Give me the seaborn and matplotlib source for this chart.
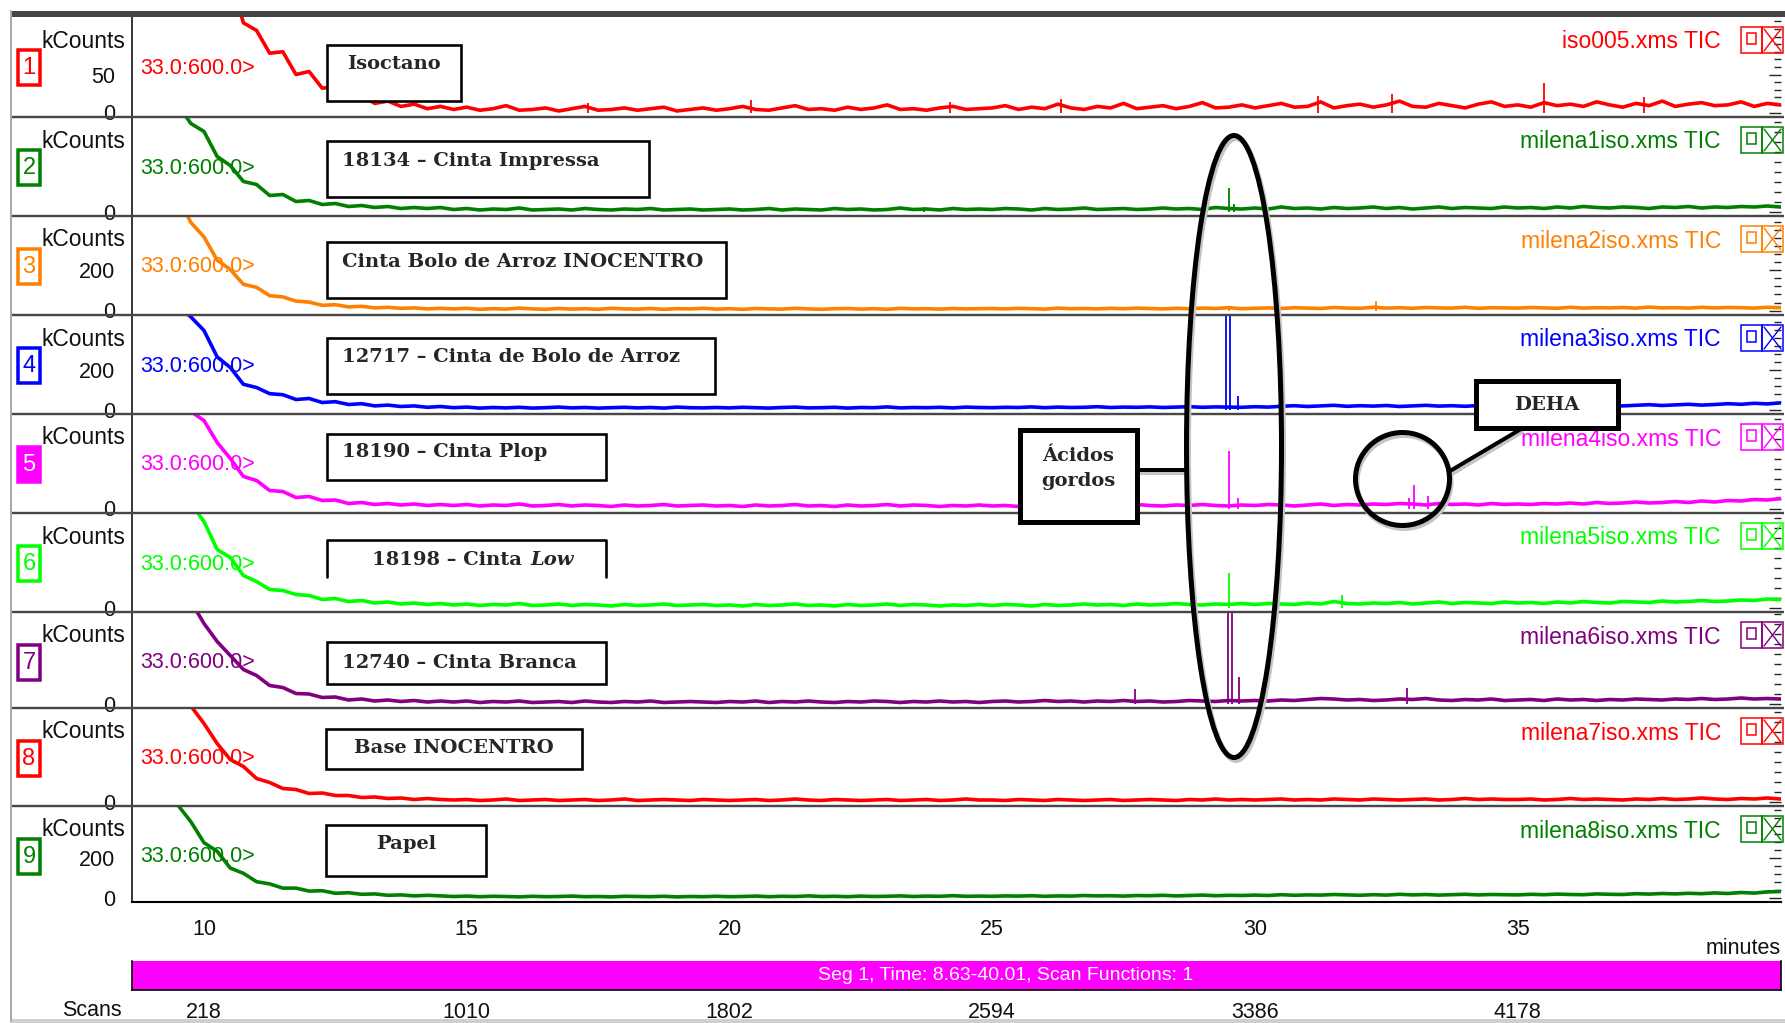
import numpy as np
import matplotlib
matplotlib.use("Agg")
import matplotlib.pyplot as plt
from matplotlib.patches import Rectangle, Ellipse
from matplotlib.ticker import MultipleLocator
import seaborn as sns

sns.set_style("white")
plt.rcParams["font.family"] = ["Liberation Sans", "DejaVu Sans"]

W, H, DPI = 1785, 1023, 100

# ---------------------------------------------------------------- data
# retention-time sampling grid (minutes)
minutes = np.round(np.arange(8.75, 40.001, 0.25), 2)

# TIC traces in kCounts, one value per grid point
tic_1 = [300, 300, 300, 300, 300, 300, 260, 177, 118, 108, 78, 80, 50, 54, 32, 34, 18, 22, 12, 15, 8, 11, 5, 8,
         4, 7, 3, 5, 9, 3, 4, 6, 2, 5, 8, 3, 4, 6, 3, 5, 7, 2, 4, 6, 3,
         5, 8, 4, 3, 6, 9, 4, 5, 3, 7, 4, 6, 10, 4, 5, 3, 6, 8, 4, 5,
         6, 9, 4, 7, 5, 11, 6, 4, 8, 6, 12, 5, 7, 9, 5, 8, 13, 6, 7, 10,
         6, 9, 12, 7, 8, 14, 6, 9, 11, 7, 10, 15, 8, 7, 12, 9, 6, 11, 14, 8,
         10, 7, 13, 9, 11, 8, 14, 10, 7, 12, 9, 15, 8, 11, 13, 9, 10, 14, 8, 12, 10]
tic_2 = [300, 300, 300, 214, 176, 160, 110, 92, 60, 54, 32, 34, 20, 22, 14, 16, 10, 12, 8, 10, 6, 8, 6, 8,
         4, 6, 3, 5, 4, 7, 3, 4, 5, 3, 6, 4, 3, 5, 4, 6, 3, 4, 5, 3, 4,
         5, 3, 4, 6, 3, 5, 4, 3, 6, 4, 5, 3, 4, 7, 4, 5, 3, 6, 4, 5,
         4, 6, 5, 3, 6, 4, 5, 7, 4, 5, 6, 4, 5, 7, 5, 6, 4, 8, 6, 5,
         7, 5, 9, 6, 7, 5, 8, 6, 7, 9, 6, 8, 5, 7, 9, 6, 8, 7, 6, 9,
         7, 8, 6, 9, 7, 10, 8, 7, 9, 8, 6, 9, 8, 10, 7, 9, 8, 10, 9, 11, 9]
tic_3 = [900, 900, 900, 567, 440, 368, 252, 205, 131, 116, 74, 68, 47, 42, 26, 29, 18, 21, 13, 16, 11, 13, 8, 11,
         8, 11, 6, 9, 7, 12, 8, 6, 10, 7, 9, 6, 11, 8, 7, 10, 6, 9, 8, 11, 7,
         9, 6, 10, 8, 7, 11, 8, 6, 9, 10, 7, 9, 6, 11, 8, 9, 7, 10, 8, 9,
         10, 8, 11, 9, 7, 12, 9, 10, 8, 11, 9, 12, 10, 8, 11, 9, 12, 10, 14, 9,
         11, 13, 10, 14, 12, 10, 15, 12, 11, 16, 12, 14, 11, 15, 13, 12, 16, 11, 14, 13,
         12, 15, 13, 11, 16, 12, 14, 13, 15, 12, 17, 13, 14, 12, 16, 13, 15, 14, 12, 16, 14]
tic_4 = [900, 900, 900, 517, 463, 395, 263, 210, 126, 110, 79, 74, 50, 55, 35, 39, 25, 29, 18, 22, 15, 18, 11, 15,
         9, 12, 7, 10, 8, 11, 7, 9, 12, 8, 10, 7, 9, 11, 8, 10, 7, 12, 9, 8, 10,
         8, 11, 9, 7, 10, 12, 8, 9, 11, 7, 10, 9, 13, 8, 10, 9, 11, 8, 12, 10,
         9, 11, 10, 13, 9, 12, 10, 11, 14, 10, 12, 11, 13, 10, 12, 14, 11, 13, 12, 11,
         14, 12, 16, 19, 15, 18, 21, 16, 19, 17, 20, 15, 18, 21, 17, 19, 16, 20, 18, 17,
         19, 17, 21, 18, 20, 16, 19, 22, 18, 21, 24, 20, 23, 26, 22, 25, 29, 26, 31, 28, 33]
tic_5 = [300, 300, 300, 300, 194, 176, 132, 100, 64, 56, 36, 34, 22, 24, 16, 17, 10, 12, 8, 10, 7, 9, 6, 8,
         6, 8, 5, 7, 6, 9, 5, 6, 8, 5, 7, 6, 4, 7, 5, 6, 8, 5, 6, 7, 5,
         6, 4, 7, 5, 6, 8, 5, 6, 4, 7, 5, 6, 8, 5, 7, 6, 4, 6, 5, 7,
         5, 6, 4, 7, 5, 6, 8, 5, 6, 7, 5, 8, 6, 5, 7, 6, 8, 6, 5, 7,
         6, 8, 7, 5, 7, 9, 6, 8, 7, 9, 8, 10, 9, 7, 10, 8, 9, 7, 10, 8,
         9, 8, 10, 9, 11, 9, 12, 10, 11, 13, 11, 12, 14, 12, 15, 13, 16, 15, 18, 17, 20]
tic_6 = [300, 300, 300, 300, 208, 172, 116, 100, 64, 52, 36, 34, 26, 24, 16, 18, 12, 14, 9, 11, 7, 9, 6, 8,
         5, 7, 4, 6, 5, 8, 4, 5, 7, 4, 6, 5, 3, 6, 4, 5, 7, 4, 5, 6, 4,
         5, 3, 6, 4, 5, 7, 4, 5, 3, 6, 4, 5, 7, 4, 6, 5, 3, 5, 4, 6,
         4, 6, 5, 3, 6, 4, 5, 7, 5, 6, 4, 7, 5, 6, 8, 6, 5, 7, 6, 8,
         6, 8, 7, 6, 9, 7, 12, 8, 7, 9, 8, 10, 7, 9, 11, 8, 10, 9, 8, 11,
         9, 10, 8, 11, 9, 12, 10, 9, 12, 11, 10, 13, 11, 12, 14, 12, 13, 15, 14, 17, 16]
tic_7 = [300, 300, 300, 300, 204, 160, 124, 96, 68, 56, 36, 32, 20, 19, 12, 13, 7, 9, 5, 7, 4, 6, 3, 5,
         3, 5, 2, 4, 3, 5, 2, 3, 4, 2, 5, 3, 2, 4, 3, 5, 2, 3, 4, 3, 2,
         4, 3, 5, 2, 4, 3, 5, 3, 2, 4, 3, 5, 4, 2, 4, 3, 5, 3, 4, 2,
         4, 5, 3, 4, 6, 4, 5, 3, 5, 4, 6, 4, 5, 3, 4, 6, 5, 4, 6, 5,
         6, 5, 7, 6, 8, 10, 9, 7, 8, 6, 7, 9, 8, 10, 7, 6, 8, 7, 9, 6,
         7, 8, 6, 9, 7, 8, 6, 8, 7, 9, 8, 7, 9, 8, 10, 8, 9, 11, 9, 10, 9]
tic_8 = [300, 300, 300, 300, 191, 156, 116, 84, 70, 46, 38, 26, 24, 16, 17, 12, 12, 8, 9, 6, 7, 4, 6, 4,
         3, 4, 2, 3, 5, 2, 3, 4, 2, 3, 4, 2, 3, 5, 2, 3, 4, 3, 2, 4, 3,
         2, 3, 4, 2, 3, 5, 3, 2, 4, 3, 2, 3, 4, 2, 3, 4, 2, 3, 5, 3,
         3, 2, 4, 3, 2, 4, 3, 2, 3, 4, 2, 3, 4, 3, 2, 4, 3, 5, 3, 4,
         3, 4, 5, 3, 4, 3, 5, 4, 3, 5, 4, 3, 4, 5, 3, 4, 6, 4, 5, 4,
         4, 5, 3, 4, 6, 4, 5, 4, 3, 5, 4, 6, 4, 5, 7, 5, 4, 6, 5, 7, 5]
tic_9 = [900, 900, 574, 463, 379, 274, 231, 147, 121, 79, 68, 47, 47, 32, 34, 21, 24, 16, 18, 11, 13, 8, 11, 8,
         5, 7, 4, 6, 5, 3, 6, 4, 5, 7, 4, 5, 3, 6, 5, 4, 6, 3, 5, 4, 6,
         4, 5, 7, 4, 6, 5, 8, 5, 6, 4, 7, 5, 6, 8, 5, 7, 6, 9, 6, 7,
         6, 8, 7, 9, 6, 8, 7, 10, 8, 9, 7, 10, 9, 11, 8, 10, 12, 9, 11, 10,
         12, 10, 14, 11, 13, 12, 15, 13, 11, 14, 12, 16, 13, 15, 12, 14, 16, 13, 15, 14,
         13, 16, 14, 17, 15, 14, 18, 16, 15, 19, 17, 20, 18, 21, 19, 23, 20, 25, 22, 28, 30]

# narrow peaks (retention time in min, apex in kCounts)
peak_t_1 = [17.3, 20.4, 24.2, 26.3, 31.2, 32.6, 35.5, 37.4]
peak_h_1 = [12, 16, 14, 18, 22, 24, 39, 20]
peak_t_2 = [23.7, 29.51, 29.6]
peak_h_2 = [10, 48, 16]
peak_t_3 = [29.5, 32.3]
peak_h_3 = [20, 47]
peak_t_4 = [29.45, 29.53, 29.67]
peak_h_4 = [520, 520, 68]
peak_t_5 = [29.51, 29.68, 32.93, 33.03, 33.3]
peak_h_5 = [116, 22, 22, 48, 26]
peak_t_6 = [29.51, 31.66]
peak_h_6 = [70, 26]
peak_t_7 = [27.72, 29.49, 29.57, 29.69, 32.9]
peak_h_7 = [30, 300, 300, 54, 32]
peak_t_8 = []
peak_h_8 = []
peak_t_9 = []
peak_h_9 = []

file_labels = ["iso005.xms TIC", "milena1iso.xms TIC", "milena2iso.xms TIC",
               "milena3iso.xms TIC", "milena4iso.xms TIC", "milena5iso.xms TIC",
               "milena6iso.xms TIC", "milena7iso.xms TIC", "milena8iso.xms TIC"]
sample_names = ["Isoctano", "18134 – Cinta Impressa", "Cinta Bolo de Arroz INOCENTRO",
                "12717 – Cinta de Bolo de Arroz", "18190 – Cinta Plop", "18198 – Cinta",
                "12740 – Cinta Branca", "Base INOCENTRO", "Papel"]
y_major = [[0, 50], [0], [0, 200], [0, 200], [0], [0], [0], [0], [0, 200]]
y_minor = [10, 20, 40, 40, 20, 20, 20, 20, 40]
minute_ticks = [10, 15, 20, 25, 30, 35]
scan_ticks = [218, 1010, 1802, 2594, 3386, 4178]
time_range = (8.63, 40.01)
scan_range = (1.0, 4971.6)

trace_colors = ["#ff0000", "#008000", "#ff8000", "#0000ff", "#ff00ff",
                "#00ff00", "#800080", "#ff0000", "#008000"]

tics = [tic_1, tic_2, tic_3, tic_4, tic_5, tic_6, tic_7, tic_8, tic_9]
peak_ts = [peak_t_1, peak_t_2, peak_t_3, peak_t_4, peak_t_5, peak_t_6, peak_t_7, peak_t_8, peak_t_9]
peak_hs = [peak_h_1, peak_h_2, peak_h_3, peak_h_4, peak_h_5, peak_h_6, peak_h_7, peak_h_8, peak_h_9]

# ---------------------------------------------------------------- layout (pixels)
X0, X1 = 132, 1781
edges = [17, 117, 216, 315, 414, 513, 612, 708, 806, 902]
kc_per_px = [1.316, 2.0, 5.0, 5.0, 2.0, 2.0, 2.0, 2.0, 5.0]
ZERO_OFF = 4.5


def fig_rect(x0, y0, x1, y1):
    return [x0 / W, 1 - y1 / H, (x1 - x0) / W, (y1 - y0) / H]


def pt(px):
    return px * 72.0 / DPI


fig = plt.figure(figsize=(W / DPI, H / DPI), dpi=DPI)
fig.patch.set_facecolor("white")

# overlay in pixel coordinates for frame, labels and callouts
ov = fig.add_axes([0, 0, 1, 1])
ov.set_xlim(0, W)
ov.set_ylim(H, 0)
ov.axis("off")
ov.set_zorder(10)

ui = dict(family=["Liberation Sans", "DejaVu Sans"])
serif_b = dict(family=["DejaVu Serif"], fontweight="bold", fontsize=14)

for i in range(9):
    top, bot = edges[i], edges[i + 1]
    h = bot - top
    c = trace_colors[i]
    k = kc_per_px[i]
    ax = fig.add_axes(fig_rect(X0, top, X1, bot))
    ax.set_zorder(2)
    ax.patch.set_alpha(0)

    ax.text((140 - X0) / (X1 - X0), 1 - 51 / h, "33.0:600.0>", transform=ax.transAxes,
            ha="left", va="center", fontsize=15.5, color=c, zorder=1, **ui)

    sns.lineplot(x=minutes, y=tics[i], ax=ax, color=c, linewidth=2.6,
                 errorbar=None, zorder=3)
    if peak_ts[i]:
        ax.vlines(peak_ts[i], 0, peak_hs[i], color=c, linewidth=1.3, zorder=3)

    ax.set_xlim(*time_range)
    ax.set_ylim(-ZERO_OFF * k, (h - ZERO_OFF) * k)
    ax.set_xlabel("")
    ax.set_ylabel("")

    ax.set_yticks(y_major[i], labels=[str(v) for v in y_major[i]])
    ax.yaxis.set_minor_locator(MultipleLocator(y_minor[i]))
    ax.tick_params(axis="y", which="major", direction="out", length=11, width=1.0,
                   labelsize=15.5, pad=1, colors="#111111")
    ax.tick_params(axis="y", which="minor", direction="out", length=5.5, width=1.0,
                   colors="#111111")

    sec = ax.secondary_yaxis("right")
    sec.set_yticks(y_major[i])
    sec.yaxis.set_minor_locator(MultipleLocator(y_minor[i]))
    sec.tick_params(which="major", direction="in", length=9, width=1.0, labelright=False)
    sec.tick_params(which="minor", direction="in", length=5, width=1.0)
    sec.spines["right"].set_visible(False)

    for s in ["top", "right", "bottom"]:
        ax.spines[s].set_visible(False)
    ax.spines["left"].set_color("black")
    ax.spines["left"].set_linewidth(1.1)

    if i < 8:
        ax.tick_params(axis="x", which="both", bottom=False, labelbottom=False)
    else:
        ax.spines["bottom"].set_visible(True)
        ax.spines["bottom"].set_color("black")
        ax.spines["bottom"].set_linewidth(1.5)
        ax.set_xticks(minute_ticks, labels=[str(m) for m in minute_ticks])
        ax.xaxis.set_minor_locator(MultipleLocator(0.5))
        ax.tick_params(axis="x", which="major", direction="out", length=6, width=1.0,
                       labelsize=15.5, pad=6, colors="#111111")
        ax.tick_params(axis="x", which="minor", direction="out", length=4.5, width=1.0,
                       colors="#111111")

    # left labels
    ov.text(125, top + 24, "kCounts", ha="right", va="center", fontsize=16.5,
            color="#111111", **ui)
    filled = (i == 4)
    ov.add_patch(Rectangle((18, top + 33), 22, 35, facecolor=c if filled else "white",
                           edgecolor=c, lw=pt(3.5)))
    ov.text(29, top + 51, str(i + 1), ha="center", va="center", fontsize=17,
            color="white" if filled else c, **ui)

    # right file label and window icons
    ov.text(1721, top + 25, file_labels[i], ha="right", va="center", fontsize=16.5,
            color=c, **ui)
    ov.add_patch(Rectangle((1741, top + 10), 21, 26, fill=False, edgecolor=c, lw=1.1))
    ov.add_patch(Rectangle((1747, top + 16), 9, 11, fill=False, edgecolor=c, lw=1.1))
    ov.add_patch(Rectangle((1762, top + 10), 21, 26, fill=False, edgecolor=c, lw=1.1))
    ov.plot([1764, 1781], [top + 12, top + 34], color=c, lw=1.0)
    ov.plot([1781, 1764], [top + 12, top + 34], color=c, lw=1.0)

# panel separators and frame
for y in edges[1:9]:
    ov.plot([10, 1784], [y, y], color="#474747", lw=pt(2.4), solid_capstyle="butt")
ov.add_patch(Rectangle((10, 11), W - 10, 6, facecolor="#454545", edgecolor="none"))
ov.plot([10.5, 10.5], [11, 1021], color="#a8a8a8", lw=pt(2))
ov.add_patch(Rectangle((10, 1019), W - 10, 4, facecolor="#cfcfcf", edgecolor="none"))

# segment bar with scan axis
axs = fig.add_axes(fig_rect(X0, 961, X1, 990))
axs.set_facecolor("#ff00ff")
axs.set_xlim(*scan_range)
axs.set_ylim(0, 1)
axs.set_yticks([])
axs.set_xticks([scan_range[0]] + scan_ticks + [scan_range[1]],
               labels=[""] + [str(s) for s in scan_ticks] + [""])
axs.tick_params(axis="x", direction="out", length=9, width=1.0, labelsize=15.5,
                pad=0, colors="#111111")
axs.spines["top"].set_visible(False)
for s in ["bottom", "left", "right"]:
    axs.spines[s].set_color("black")
    axs.spines[s].set_linewidth(1.2)

ov.text(818, 975, "Seg 1, Time: 8.63-40.01, Scan Functions: 1", ha="left", va="center",
        fontsize=14, color="white", **ui)
ov.text(1781, 948, "minutes", ha="right", va="center", fontsize=15.5, color="#111111", **ui)
ov.text(122, 1011, "Scans", ha="right", va="center", fontsize=15.5, color="#111111", **ui)

# sample name boxes
name_boxes = [(327, 45, 461, 101), (327, 141, 649, 197), (327, 242, 726, 298),
              (327, 338, 715, 394), (327, 434, 606, 480), (327, 540, 606, 577),
              (327, 642, 606, 684), (326, 729, 582, 769), (326, 825, 486, 876)]
name_pos = [(394, 64, "center"), (342, 161, "left"), (342, 262, "left"),
            (342, 357, "left"), (342, 452, "left"), (522, 560, "right"),
            (342, 663, "left"), (454, 748, "center"), (406, 844, "center")]
for j, (bx, (tx, ty, ha)) in enumerate(zip(name_boxes, name_pos)):
    x0, y0, x1, y1 = bx
    if j == 5:
        ov.add_patch(Rectangle((x0, y0), x1 - x0, y1 - y0, facecolor="white",
                               edgecolor="none", zorder=4))
        ov.plot([x0, x0, x1, x1], [y1, y0, y0, y1], color="black", lw=pt(2.6), zorder=5)
    else:
        ov.add_patch(Rectangle((x0, y0), x1 - x0, y1 - y0, facecolor="white",
                               edgecolor="black", lw=pt(2.6), zorder=5))
    ov.text(tx, ty, sample_names[j], ha=ha, va="center", zorder=6, **serif_b)
ov.text(530, 560, "Low", ha="left", va="center", zorder=6, fontstyle="italic",
        **serif_b)

# callouts: fatty acids and DEHA
shadow = "#c4c4c4"
ov.add_patch(Ellipse((1236, 449.5), 95, 622, fill=False, edgecolor=shadow, lw=pt(5), zorder=5))
ov.add_patch(Ellipse((1234, 446.5), 95, 622, fill=False, edgecolor="black", lw=pt(5), zorder=6))
ov.plot([1139, 1187], [472.5, 472.5], color=shadow, lw=pt(4), zorder=5)
ov.plot([1139, 1186], [470, 470], color="black", lw=pt(4), zorder=6)
ov.add_patch(Rectangle((1019.5, 429.5), 117, 92, facecolor="white", edgecolor="black",
                       lw=pt(5), zorder=7))
ov.text(1078, 456, "Ácidos", ha="center", va="center", zorder=8, **serif_b)
ov.text(1078, 481, "gordos", ha="center", va="center", zorder=8, **serif_b)

ov.add_patch(Ellipse((1404, 482), 94, 93, fill=False, edgecolor=shadow, lw=pt(5), zorder=5))
ov.add_patch(Ellipse((1402.5, 479), 94, 93, fill=False, edgecolor="black", lw=pt(5), zorder=6))
ov.plot([1452, 1522], [474, 432], color=shadow, lw=pt(4), zorder=5)
ov.plot([1450, 1521], [471, 429], color="black", lw=pt(4), zorder=6)
ov.add_patch(Rectangle((1475.5, 380.5), 142, 47, facecolor="white", edgecolor="black",
                       lw=pt(5), zorder=7))
ov.text(1547, 405, "DEHA", ha="center", va="center", zorder=8, **serif_b)

fig.savefig("out.png", dpi=DPI, facecolor="white")
